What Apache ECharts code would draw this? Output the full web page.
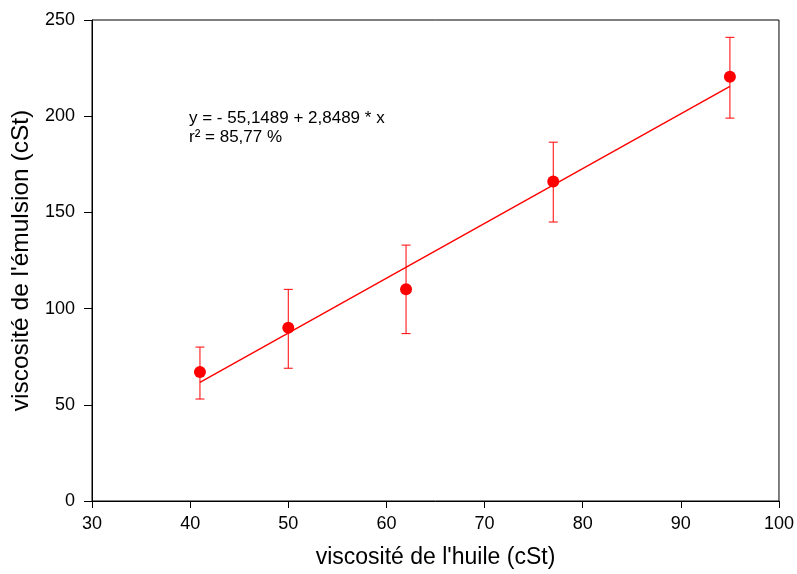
<!DOCTYPE html>
<html><head><meta charset="utf-8">
<script src="https://cdn.jsdelivr.net/npm/echarts@6/dist/echarts.min.js"></script>
<style>html,body{margin:0;padding:0;background:#fff}#c{width:797px;height:574px}</style>
</head><body><div id="c"></div>
<script>
var xVals = [41, 50, 62, 77, 95];
var yVals = [67, 90, 110, 166, 220.5];
var errLow = [53, 69, 87, 145, 199];
var errHigh = [80, 110, 133, 186.5, 241];
var regX = [41, 95];
var regY = [61.66, 215.50];
var xTicks = [30, 40, 50, 60, 70, 80, 90, 100];
var yTicks = [0, 50, 100, 150, 200, 250];

var font = 'Liberation Sans, Arial, sans-serif';
var chart = echarts.init(document.getElementById('c'));
var errData = xVals.map(function(x, i){ return [x, errLow[i], errHigh[i]]; });
chart.setOption({
  animation: false,
  grid: {left: 92, right: 18, top: 20, bottom: 71, show: true, borderColor: '#000', borderWidth: 1},
  xAxis: {
    type: 'value', min: xTicks[0], max: xTicks[xTicks.length-1], interval: 10,
    name: "viscosité de l'huile (cSt)", nameLocation: 'middle', nameGap: 45,
    nameTextStyle: {fontFamily: font, fontSize: 23, color: '#000'},
    axisLine: {show: true, lineStyle: {color: '#000'}},
    axisTick: {show: true, length: 7, lineStyle: {color: '#000'}},
    axisLabel: {fontFamily: font, fontSize: 18, color: '#000', margin: 14},
    splitLine: {show: false}
  },
  yAxis: {
    type: 'value', min: yTicks[0], max: yTicks[yTicks.length-1], interval: 50,
    name: "viscosité de l'émulsion (cSt)", nameLocation: 'middle', nameGap: 57, nameRotate: 90,
    nameTextStyle: {fontFamily: font, fontSize: 24.5, color: '#000'},
    axisLine: {show: true, lineStyle: {color: '#000'}},
    axisTick: {show: true, length: 8, lineStyle: {color: '#000'}},
    axisLabel: {fontFamily: font, fontSize: 18, color: '#000', margin: 17},
    splitLine: {show: false}
  },
  series: [
    {
      type: 'line', data: regX.map(function(x,i){return [x, regY[i]];}),
      showSymbol: false, symbol: 'none', lineStyle: {color: '#ff0000', width: 1.4}, z: 2
    },
    {
      type: 'custom', data: errData, z: 3,
      renderItem: function(params, api){
        var x = api.value(0);
        var lo = api.coord([x, api.value(1)]);
        var hi = api.coord([x, api.value(2)]);
        var hw = 4.5;
        var st = {stroke: '#ff0000', lineWidth: 1};
        return {type: 'group', children: [
          {type: 'line', shape: {x1: lo[0], y1: lo[1], x2: hi[0], y2: hi[1]}, style: st},
          {type: 'line', shape: {x1: lo[0]-hw, y1: lo[1], x2: lo[0]+hw, y2: lo[1]}, style: st},
          {type: 'line', shape: {x1: hi[0]-hw, y1: hi[1], x2: hi[0]+hw, y2: hi[1]}, style: st}
        ]};
      }
    },
    {
      type: 'scatter', data: xVals.map(function(x,i){return [x, yVals[i]];}),
      symbol: 'circle', symbolSize: 12, itemStyle: {color: '#ff0000', opacity: 1}, z: 4
    }
  ],
  graphic: [
    {type: 'text', left: 189, top: 110, style: {text: 'y = - 55,1489 + 2,8489 * x', fontFamily: font, fontSize: 17, fill: '#000'}},
    {type: 'text', left: 189, top: 129, style: {text: 'r² = 85,77 %', fontFamily: font, fontSize: 17, fill: '#000'}}
  ]
});
</script></body></html>
